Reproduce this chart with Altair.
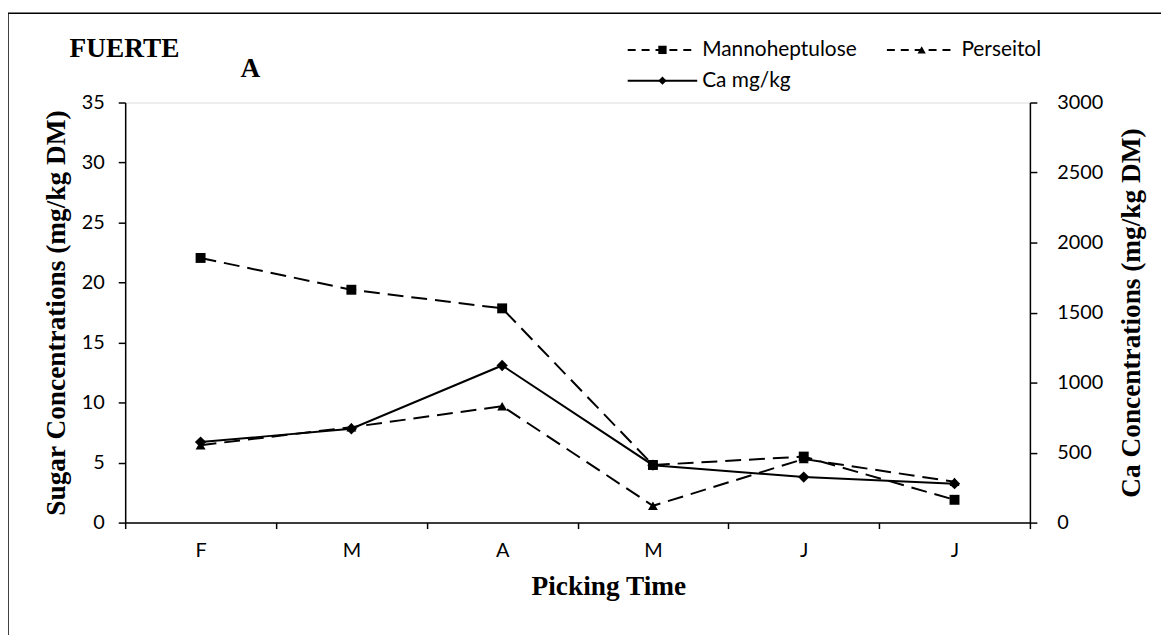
import altair as alt
import pandas as pd

# ---- data ----
months = ["Feb", "Mar", "Apr", "May", "Jun", "Jul"]
tick_labels = ["F", "M", "A", "M", "J", "J"]
mannoheptulose = [22.05, 19.4, 17.85, 4.8, 5.5, 1.9]
perseitol = [6.45, 7.95, 9.7, 1.4, 5.3, 3.4]
ca_mgkg = [575, 670, 1122, 410, 325, 278]

series_names = ["Mannoheptulose", "Perseitol"]
ca_name = "Ca mg/kg"

sugar_df = pd.DataFrame({
    "month": months * 2,
    "series": [series_names[0]] * 6 + [series_names[1]] * 6,
    "value": mannoheptulose + perseitol,
})
ca_df = pd.DataFrame({"month": months, "value": ca_mgkg})

label_expr = "{" + ",".join(f"'{m}':'{t}'" for m, t in zip(months, tick_labels)) + "}[datum.value]"

W, H = 911, 423
SANS = "Lato"
SERIF = "Liberation Serif"
TICK_FS = 20
TITLE_FS = 27.5

x_enc = alt.X(
    "month:N", sort=months, scale=alt.Scale(paddingInner=0, paddingOuter=0),
    axis=alt.Axis(
        title="Picking Time", labelExpr=label_expr, labelAngle=0,
        tickBand="extent", domainColor="black", tickColor="black", domainWidth=1.5,
        tickWidth=1.5, tickSize=6, labelPadding=12, labelFont=SANS, labelFontSize=TICK_FS,
        labelColor="black", titleFont=SERIF, titleFontSize=TITLE_FS, titleFontWeight="bold",
        titleColor="black", titleY=64, titleBaseline="middle", titleX=W / 2 + 31,
        grid=False,
    ),
)

sugar_axis = alt.Axis(
    title="Sugar Concentrations (mg/kg DM)", values=list(range(0, 36, 5)), format="d",
    orient="left", domainColor="black", tickColor="black", domainWidth=1.5,
    tickWidth=1.5, tickSize=7, labelPadding=14, labelFont=SANS, labelFontSize=TICK_FS,
    labelColor="black", titleFont=SERIF, titleFontSize=TITLE_FS, titleFontWeight="bold",
    titleColor="black", titleAngle=-90, titleX=-69, titleY=H / 2, titleBaseline="middle",
    titleAlign="center", grid=False,
)
ca_axis = alt.Axis(
    title="Ca Concentrations (mg/kg DM)", values=list(range(0, 3001, 500)), format="d",
    orient="right", domainColor="black", tickColor="black", domainWidth=1.5,
    tickWidth=1.5, tickSize=7, labelPadding=20, labelFont=SANS, labelFontSize=TICK_FS,
    labelColor="black", titleFont=SERIF, titleFontSize=TITLE_FS, titleFontWeight="bold",
    titleColor="black", titleAngle=-90, titleX=102, titleY=H / 2, titleBaseline="middle",
    titleAlign="center", grid=False,
)

sugar_y = alt.Y("value:Q", scale=alt.Scale(domain=[0, 35], nice=False), axis=sugar_axis)
ca_y = alt.Y("value:Q", scale=alt.Scale(domain=[0, 3000], nice=False), axis=ca_axis)

DASH = [16, 8]

sugar_lines = alt.Chart(sugar_df).mark_line(
    color="black", strokeWidth=2, strokeDash=DASH
).encode(x=x_enc, y=sugar_y, detail="series:N")

sugar_pts = alt.Chart(sugar_df).mark_point(
    filled=True, color="black", opacity=1, size=100
).encode(
    x=x_enc, y=sugar_y,
    shape=alt.Shape("series:N", scale=alt.Scale(domain=series_names,
                                                range=["square", "triangle-up"]), legend=None),
)

sugar_layer = alt.layer(sugar_lines, sugar_pts)

ca_line = alt.Chart(ca_df).mark_line(color="black", strokeWidth=2).encode(x=x_enc, y=ca_y)
ca_pts = alt.Chart(ca_df).mark_point(
    filled=True, color="black", opacity=1, size=130, shape="diamond"
).encode(x=x_enc, y=ca_y)
ca_layer = alt.layer(ca_line, ca_pts)

# ---- decorations (pixel positions relative to plot origin at page (126,101)) ----
OX, OY = 126, 101
one = pd.DataFrame({"a": [0]})


def px(v):
    return alt.value(v - OX)


def py(v):
    return alt.value(v - OY)


frame = alt.Chart(one).mark_rect(fill=None, stroke="black", strokeWidth=1.5).encode(
    x=px(8), x2=px(1300), y=py(11), y2=py(800))

t_fuerte = alt.Chart(one).mark_text(
    text="FUERTE", font=SERIF, fontSize=TITLE_FS, fontWeight="bold", align="left",
    baseline="middle", color="black").encode(x=px(70), y=py(47))
t_a = alt.Chart(one).mark_text(
    text="A", font=SERIF, fontSize=TITLE_FS, fontWeight="bold", align="left",
    baseline="middle", color="black").encode(x=px(242), y=py(67))

LEG_FS = 21
legend_items = [
    (series_names[0], 632, 48, [8, 6], "square"),
    (series_names[1], 893, 48, [8, 6], "triangle-up"),
    (ca_name, 632, 79, [1, 0], "diamond"),
]
leg_layers = []
for name, lx, ly, dash, shp in legend_items:
    leg_layers.append(alt.Chart(one).mark_rule(color="black", strokeWidth=2, strokeDash=dash).encode(
        x=px(lx), x2=px(lx + 70), y=py(ly)))
    leg_layers.append(alt.Chart(one).mark_point(
        filled=True, color="black", opacity=1, size=70, shape=shp).encode(x=px(lx + 35), y=py(ly)))
    leg_layers.append(alt.Chart(one).mark_text(
        text=name, font=SANS, fontSize=LEG_FS, align="left", baseline="middle", color="black").encode(
        x=px(lx + 75), y=py(ly)))

data_layer = alt.layer(sugar_layer, ca_layer).resolve_scale(y="independent")

chart = alt.layer(
    frame, data_layer, t_fuerte, t_a, *leg_layers
).properties(
    width=W, height=H,
    padding={"left": 118, "top": 93, "right": 132, "bottom": 111},
    autosize=alt.AutoSizeParams(type="none"),
).configure_view(stroke=None).configure(background="white")

chart.save("out.html", embed_options={"renderer": "svg", "actions": False})
